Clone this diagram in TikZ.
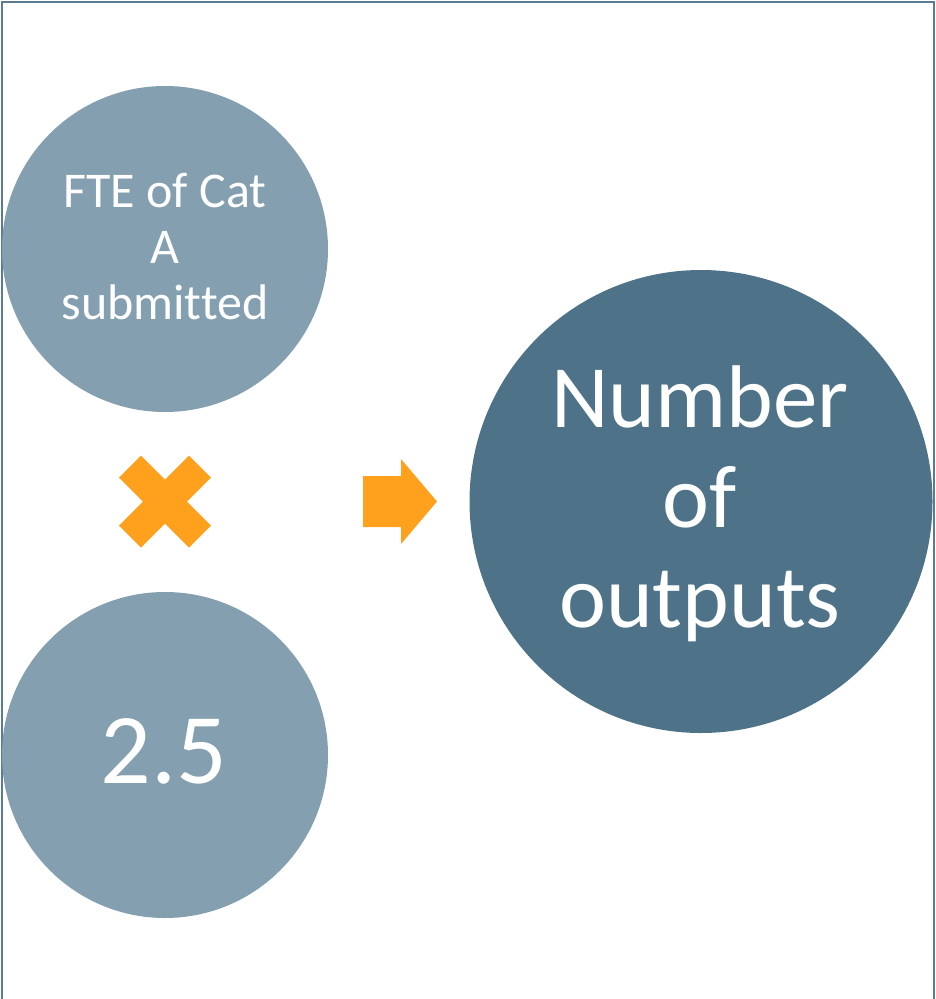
\documentclass[tikz,border=0pt]{standalone}
\usepackage{fontspec}
\setmainfont{Carlito}[Ligatures=NoCommon]
\definecolor{lightc}{HTML}{849FAF}
\definecolor{darkc}{HTML}{4E7389}
\definecolor{orng}{HTML}{FFA11C}
\definecolor{framec}{HTML}{5B7B92}
\begin{document}
\begin{tikzpicture}[x=1pt,y=-1pt,
  bubble/.style={circle,inner sep=0pt,draw=none},
  lightbubble/.style={bubble,fill=lightc,minimum size=326pt},
  darkbubble/.style={bubble,fill=darkc,minimum size=463pt},
  txt/.style={text=white,align=center,inner sep=0pt},
  sign/.style={fill=orng,draw=none}]
\useasboundingbox (0,0) rectangle (935,999);
\draw[framec,line width=2pt] (1.5,999) -- (1.5,1.5) -- (933.5,1.5) -- (933.5,999);
\node[lightbubble] (fte) at (165,249) {};
\node[lightbubble] (factor) at (165,755) {};
\node[darkbubble] (outputs) at (701,501.5) {};
\node[txt,anchor=base,font=\fontsize{50}{56}\selectfont] (ftetxt) at (165,319) {FTE of Cat\\A\\submitted};
\node[txt,anchor=base,font=\fontsize{100}{120}\selectfont] (factortxt) at (164,783) {2.5};
\node[txt,anchor=base,font=\fontsize{89}{100}\selectfont] (outtxt) at (700,627) {Number\\of\\outputs};
% multiplication sign
\coordinate (times) at (165,501.5);
\fill[sign,shift={(times)}] (-46,-24) -- (-24,-46) -- (0,-22) -- (24,-46) -- (46,-24) -- (22,0)
  -- (46,24) -- (24,46) -- (0,22) -- (-24,46) -- (-46,24) -- (-22,0) -- cycle;
% arrow
\coordinate (arr) at (363,501.5);
\fill[sign,shift={(arr)}] (0,-25.5) -- (38,-25.5) -- (38,-42.5) -- (74,0) -- (38,42.5) -- (38,25.5) -- (0,25.5) -- cycle;
\end{tikzpicture}
\end{document}
